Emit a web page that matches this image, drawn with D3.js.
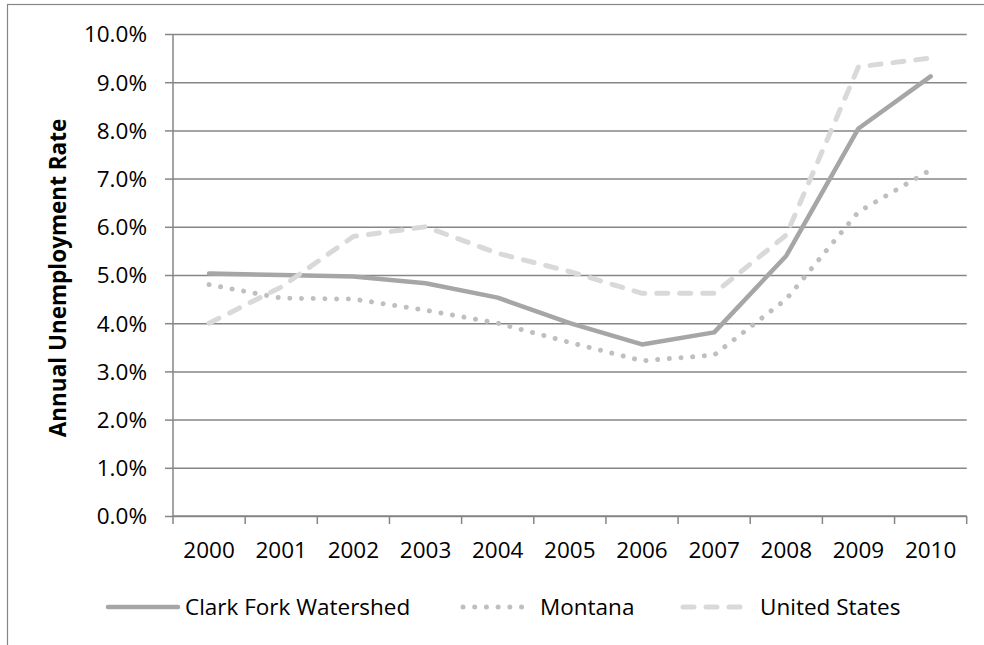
<!DOCTYPE html>
<html>
<head>
<meta charset="utf-8">
<script src="https://cdn.jsdelivr.net/npm/d3@7"></script>
<style>
  html, body { margin: 0; padding: 0; background: #fff; }
  svg text { font-family: "Open Sans", sans-serif; fill: #000; }
</style>
</head>
<body>
<svg id="chart" width="984" height="645"></svg>
<script>
// Annual unemployment rate, percent
const years = ['2000', '2001', '2002', '2003', '2004', '2005', '2006', '2007', '2008', '2009', '2010'];
const clarkFork = [5.03, 5.0, 4.97, 4.83, 4.53, 4.0, 3.56, 3.81, 5.4, 8.04, 9.12];
const montana = [4.8, 4.52, 4.5, 4.27, 4.0, 3.6, 3.22, 3.34, 4.5, 6.31, 7.18];
const unitedStates = [4.0, 4.75, 5.8, 6.0, 5.45, 5.07, 4.62, 4.62, 5.83, 9.32, 9.5];
const yTicks = [0, 1, 2, 3, 4, 5, 6, 7, 8, 9, 10];
const seriesNames = ['Clark Fork Watershed', 'Montana', 'United States'];

const svg = d3.select('#chart');
const axisColor = '#868686';
const fontSize = '22.5px';

// cadre du graphique (coupé en bas et à droite)
svg.append('rect')
    .attr('x', 7.5).attr('y', 4.5)
    .attr('width', 1000).attr('height', 700)
    .attr('fill', 'none')
    .attr('stroke', axisColor)
    .attr('stroke-width', 1.2);

const plot = { left: 173, right: 966.7, top: 34, bottom: 516 };

const x = d3.scaleBand()
    .domain(years)
    .range([plot.left, plot.right]);

const y = d3.scaleLinear()
    .domain([0, 10])
    .range([plot.bottom, plot.top]);

// gridlines + y axis
const yAxis = svg.append('g')
    .attr('transform', `translate(${plot.left},0)`)
    .call(d3.axisLeft(y)
        .tickValues(yTicks)
        .tickSize(8)
        .tickPadding(18)
        .tickFormat(d => d3.format('.1f')(d) + '%'));
yAxis.select('.domain').remove();
yAxis.selectAll('.tick line')
    .attr('stroke', axisColor)
    .attr('stroke-width', 1.5)
    .attr('x2', -8)
    .clone()
    .attr('x1', 0)
    .attr('x2', plot.right - plot.left);
yAxis.selectAll('.tick text')
    .style('font-size', fontSize)
    .attr('dy', '0.35em');
yAxis.append('line')
    .attr('x1', 0).attr('x2', 0)
    .attr('y1', plot.top).attr('y2', plot.bottom)
    .attr('stroke', axisColor)
    .attr('stroke-width', 1.5);

// x axis: ticks at band boundaries, labels centered
const xAxis = svg.append('g')
    .attr('transform', `translate(0,${plot.bottom})`);
xAxis.append('line')
    .attr('x1', plot.left).attr('x2', plot.right)
    .attr('stroke', axisColor)
    .attr('stroke-width', 1.5);
const bounds = years.map(d => x(d)).concat([plot.right]);
xAxis.selectAll('.xtick')
    .data(bounds)
    .enter().append('line')
    .attr('class', 'xtick')
    .attr('x1', d => d).attr('x2', d => d)
    .attr('y1', 0).attr('y2', 8)
    .attr('stroke', axisColor)
    .attr('stroke-width', 1.5);
xAxis.selectAll('.xlabel')
    .data(years)
    .enter().append('text')
    .attr('class', 'xlabel')
    .attr('x', d => x(d) + x.bandwidth() / 2)
    .attr('y', 42)
    .attr('text-anchor', 'middle')
    .style('font-size', fontSize)
    .text(d => d);

// y axis title
svg.append('text')
    .attr('transform', `translate(66,${(plot.top + plot.bottom) / 2 + 3}) rotate(-90)`)
    .attr('text-anchor', 'middle')
    .style('font-size', fontSize)
    .style('font-weight', 'bold')
    .text('Annual Unemployment Rate');

const styles = [
    { color: '#A6A6A6', width: 4.5, dash: null, cap: 'round' },
    { color: '#BFBFBF', width: 5, dash: '0.01 11.7', cap: 'round' },
    { color: '#D9D9D9', width: 5, dash: '11 12', cap: 'round' }
];
const allSeries = [clarkFork, montana, unitedStates];

const line = d3.line()
    .x((d, i) => x(years[i]) + x.bandwidth() / 2)
    .y(d => y(d));

allSeries.forEach((values, i) => {
    svg.append('path')
        .datum(values)
        .attr('fill', 'none')
        .attr('stroke', styles[i].color)
        .attr('stroke-width', styles[i].width)
        .attr('stroke-linecap', styles[i].cap)
        .attr('stroke-linejoin', 'round')
        .attr('stroke-dasharray', styles[i].dash)
        .attr('d', line);
});

// legend
const legendY = 607;
const legendItems = [
    { x1: 108, x2: 178, tx: 185 },
    { x1: 463, x2: 527, tx: 540 },
    { x1: 683, x2: 743, tx: 760 }
];
legendItems.forEach((item, i) => {
    svg.append('line')
        .attr('x1', item.x1).attr('x2', item.x2)
        .attr('y1', legendY).attr('y2', legendY)
        .attr('stroke', styles[i].color)
        .attr('stroke-width', styles[i].width)
        .attr('stroke-linecap', styles[i].cap)
        .attr('stroke-dasharray', styles[i].dash);
    svg.append('text')
        .attr('x', item.tx)
        .attr('y', legendY)
        .attr('dy', '0.35em')
        .style('font-size', fontSize)
        .text(seriesNames[i]);
});
</script>
</body>
</html>
